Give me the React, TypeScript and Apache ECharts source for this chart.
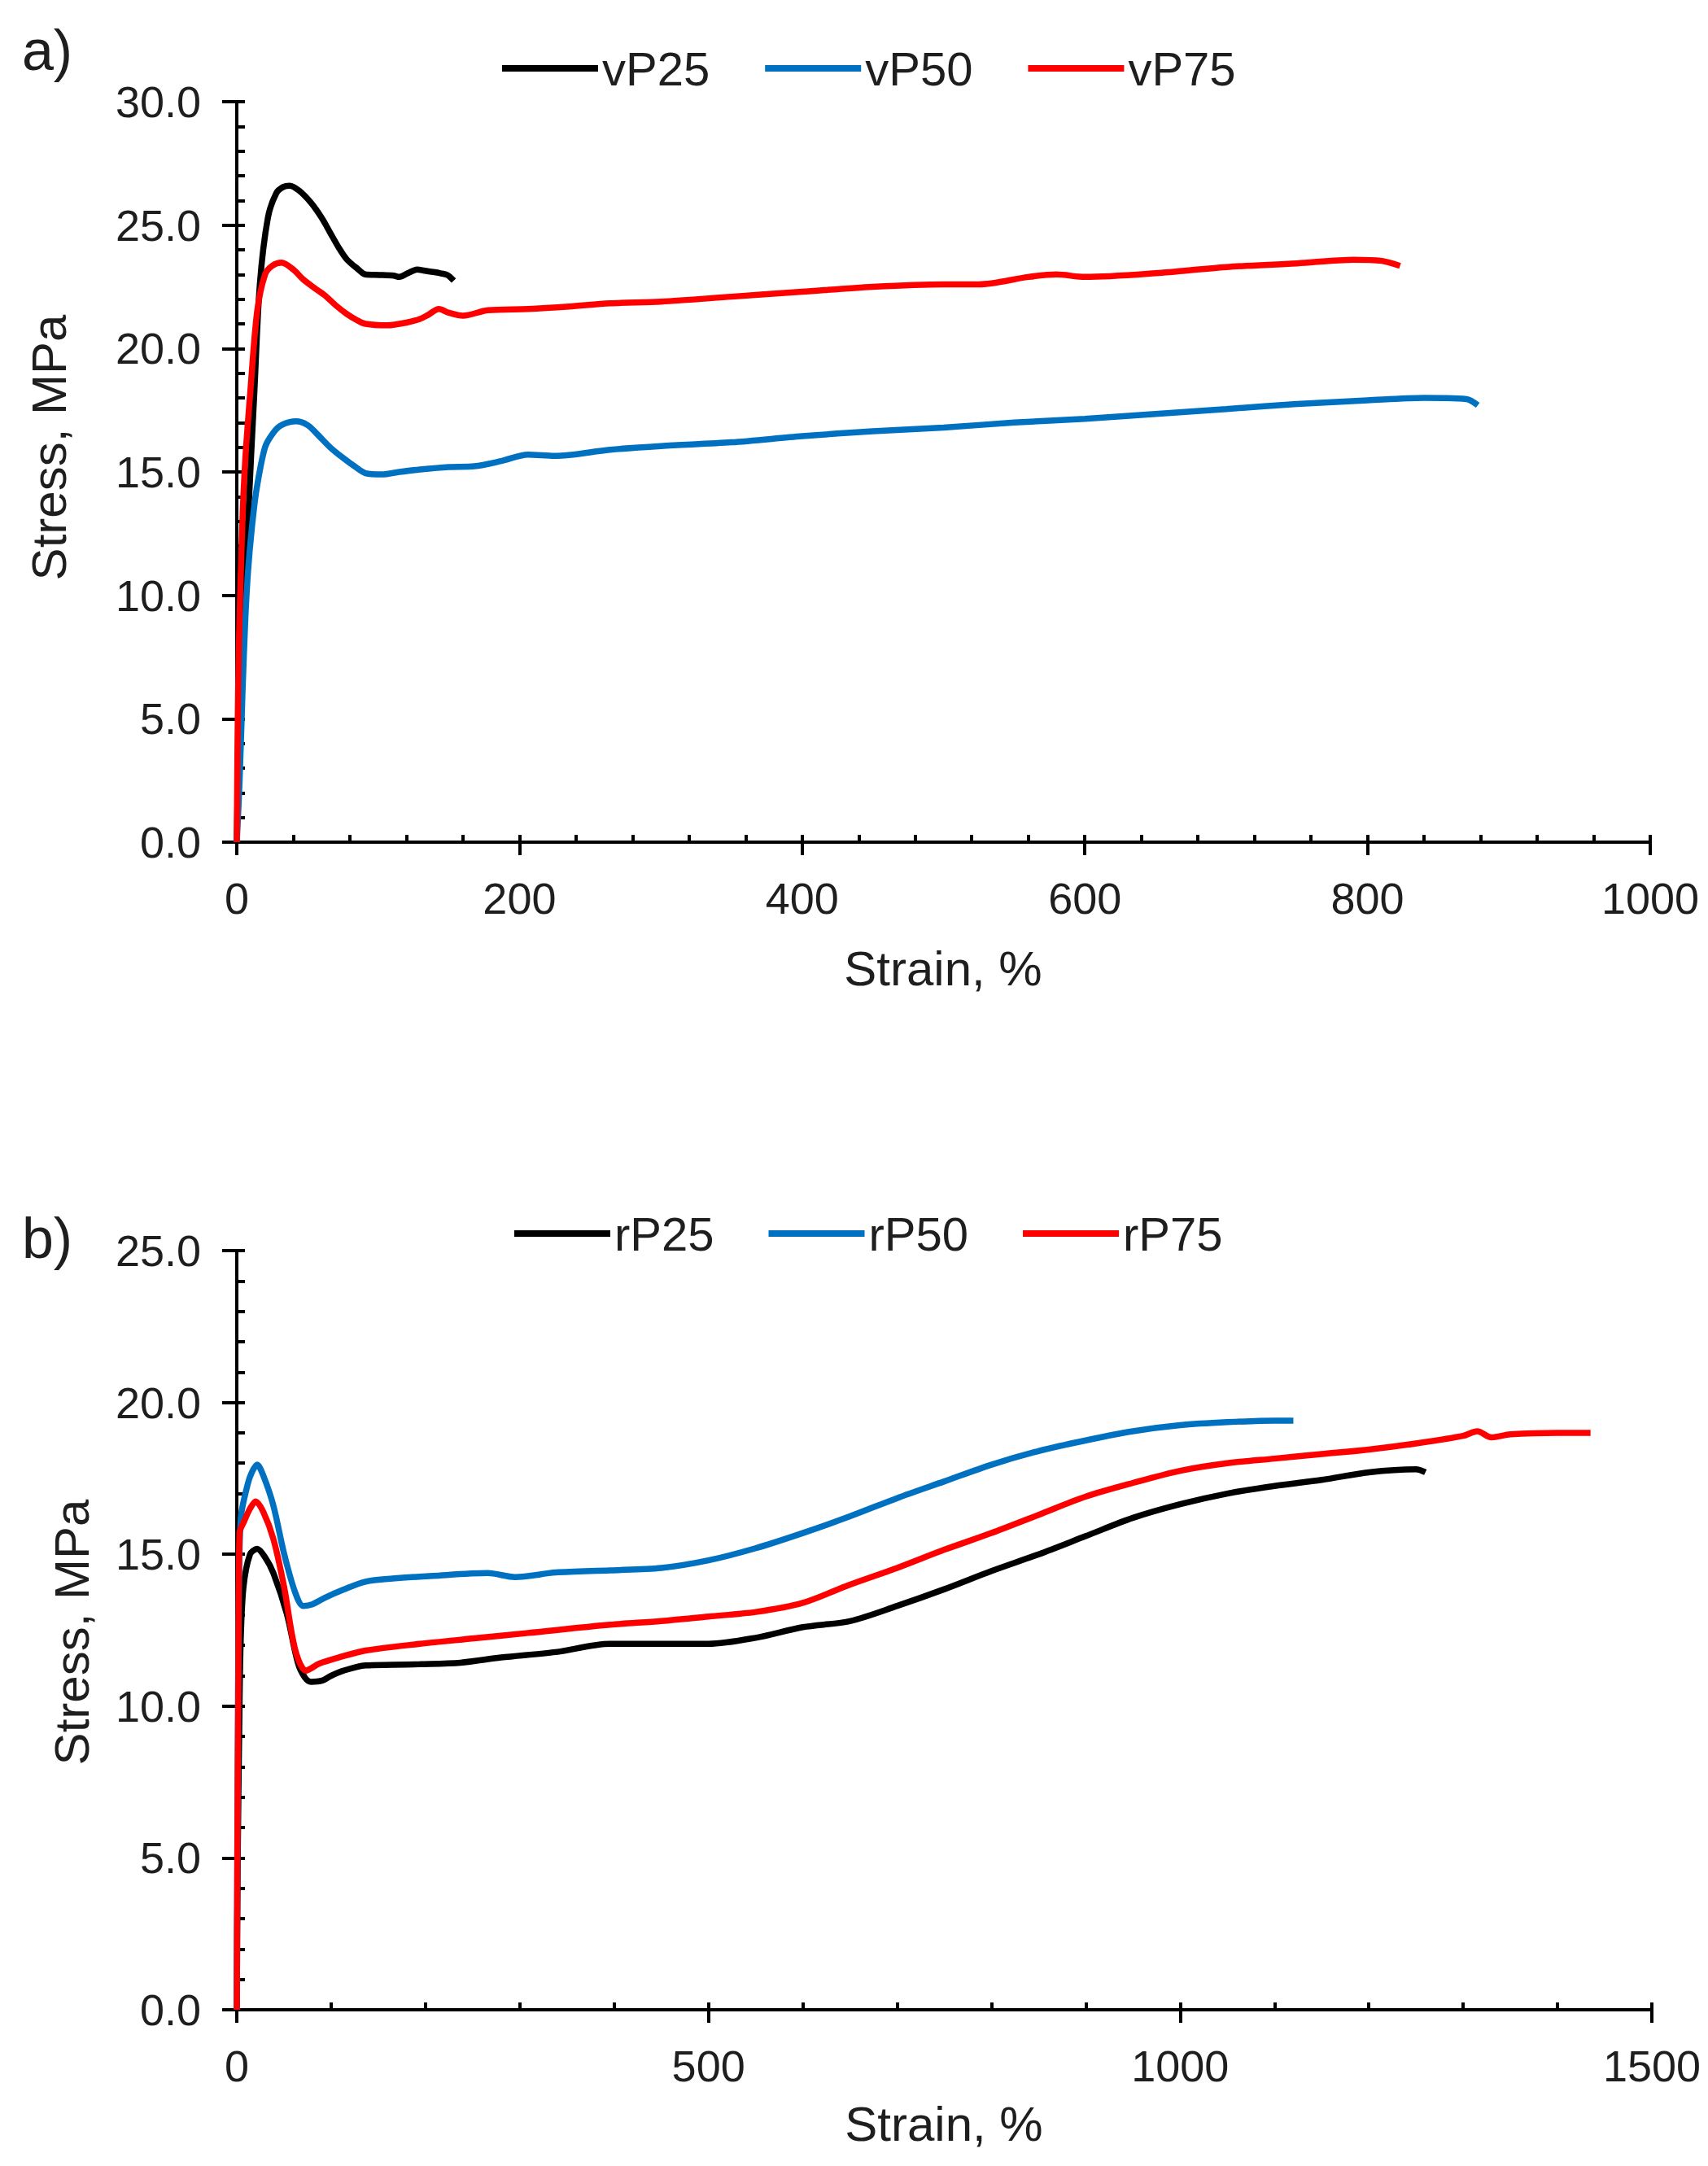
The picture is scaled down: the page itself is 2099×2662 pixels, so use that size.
import React, { useEffect, useRef } from 'react';
import * as echarts from 'echarts';

// panel a) virgin blends
const vP25Strain = [0, 1, 3, 6, 7.7, 10, 12.4, 16.3, 22, 28, 33, 37.4, 44, 52.6, 60, 66, 72, 78, 85, 91, 101, 111, 115, 121, 127.6, 133, 139, 144, 149, 153.5];
const vP25Stress = [0, 3, 6.5, 10.5, 12.7, 15.5, 18.2, 22.6, 25.3, 26.3, 26.55, 26.6, 26.4, 25.9, 25.3, 24.7, 24.1, 23.6, 23.25, 23.0, 22.98, 22.95, 22.9, 23.05, 23.2, 23.15, 23.1, 23.05, 22.98, 22.75];

const vP50Strain = [0, 2, 4, 6, 8, 10.6, 14, 20, 26, 31.7, 42, 50, 56.6, 66, 75.6, 84, 91, 102.7, 115, 129.6, 150, 168, 187, 206, 225, 264, 300, 350, 400, 450, 500, 550, 600, 650, 700, 750, 800, 840, 870, 878];
const vP50Stress = [0, 2.5, 6, 9, 11, 12.7, 14.3, 16.0, 16.6, 16.9, 17.05, 16.9, 16.55, 16.0, 15.55, 15.2, 14.95, 14.9, 15.0, 15.1, 15.2, 15.23, 15.44, 15.7, 15.65, 15.9, 16.05, 16.2, 16.45, 16.65, 16.8, 17.0, 17.15, 17.35, 17.55, 17.75, 17.9, 18.0, 17.95, 17.7];

const vP75Strain = [0, 0.5, 1.5, 3.8, 6, 9.5, 14.4, 20, 25, 31.7, 40, 47, 55, 62.4, 70, 77.8, 85, 91, 106.6, 120, 129.6, 135, 143, 150, 160, 177.6, 206, 235, 264, 300, 350, 400, 450, 500, 525, 560, 580, 600, 650, 700, 750, 790, 810, 823];
const vP75Stress = [0, 4, 8, 12.7, 15.5, 18.2, 21.5, 23.0, 23.35, 23.48, 23.2, 22.8, 22.45, 22.15, 21.75, 21.4, 21.15, 21.0, 20.94, 21.05, 21.2, 21.35, 21.6, 21.45, 21.33, 21.55, 21.6, 21.7, 21.83, 21.9, 22.1, 22.3, 22.5, 22.6, 22.6, 22.9, 23.0, 22.9, 23.05, 23.3, 23.45, 23.6, 23.55, 23.35];

// panel b) recycled blends
const rP25Strain = [0, 1, 2.5, 4, 7, 14, 21.6, 30, 38.8, 53, 64.7, 72, 78.8, 90.6, 100, 113.3, 136.5, 165, 194, 237, 280, 338, 395.6, 450, 500, 550, 600, 650, 700, 750, 800, 850, 900, 950, 1000, 1050, 1100, 1150, 1200, 1250, 1260];
const rP25Stress = [0, 5, 9, 12, 13.9, 15.0, 15.18, 14.9, 14.38, 13.04, 11.43, 10.95, 10.8, 10.84, 11.0, 11.17, 11.34, 11.36, 11.38, 11.43, 11.6, 11.78, 12.05, 12.05, 12.05, 12.25, 12.6, 12.8, 13.3, 13.85, 14.45, 15.0, 15.6, 16.2, 16.65, 17.0, 17.25, 17.45, 17.7, 17.8, 17.7];

const rP50Strain = [0, 1, 2, 4.3, 11.5, 16, 21.6, 28, 38.8, 50.3, 61.8, 70.4, 80, 93.4, 113.3, 136.5, 165, 208, 266, 295, 338, 395.6, 450, 500, 550, 600, 650, 700, 750, 800, 850, 900, 950, 1000, 1050, 1100, 1120];
const rP50Stress = [0, 8, 13, 16.2, 17.3, 17.7, 17.95, 17.6, 16.6, 15.0, 13.75, 13.3, 13.35, 13.57, 13.84, 14.1, 14.2, 14.29, 14.38, 14.25, 14.4, 14.47, 14.55, 14.8, 15.2, 15.7, 16.25, 16.85, 17.4, 17.95, 18.4, 18.75, 19.05, 19.25, 19.35, 19.4, 19.4];

const rP75Strain = [0, 0.5, 1.5, 2.9, 8, 14, 20, 28, 38.8, 50.3, 61.8, 73.3, 87.5, 107.8, 136.5, 194, 251.5, 309, 395.6, 450, 500, 550, 600, 650, 700, 750, 800, 850, 900, 950, 1000, 1050, 1100, 1150, 1200, 1250, 1300, 1315, 1330, 1350, 1400, 1435];
const rP75Stress = [0, 5, 10, 15.7, 16.1, 16.5, 16.74, 16.4, 15.5, 13.9, 11.87, 11.17, 11.4, 11.6, 11.83, 12.05, 12.23, 12.41, 12.68, 12.8, 12.95, 13.1, 13.4, 14.0, 14.55, 15.15, 15.7, 16.3, 16.9, 17.35, 17.75, 18.0, 18.15, 18.3, 18.45, 18.65, 18.9, 19.05, 18.85, 18.95, 19.0, 19.0];

const FONT = '"Liberation Sans", Arial, sans-serif';
const TXT = '#1e1e1e';

const pairs = (xs: number[], ys: number[]) => xs.map((x, i) => [x, ys[i]]);

function line(name: string, color: string, xs: number[], ys: number[], idx: number) {
  return {
    name,
    type: 'line',
    xAxisIndex: idx * 2,
    yAxisIndex: idx * 2,
    data: pairs(xs, ys),
    showSymbol: false,
    smooth: 0.3,
    lineStyle: { color, width: 7.5 },
    itemStyle: { color },
  };
}

function xAxes(grid: number, max: number, interval: number) {
  return [
    {
      type: 'value', gridIndex: grid, position: 'bottom', min: 0, max, interval,
      axisLine: { lineStyle: { color: '#000', width: 4 } },
      axisTick: { length: 16, lineStyle: { color: '#000', width: 4 } },
      axisLabel: { fontSize: 54, color: TXT, margin: 42, fontFamily: FONT, formatter: (v: number) => String(v) },
      splitLine: { show: false },
    },
    {
      type: 'value', gridIndex: grid, position: 'bottom', min: 0, max, interval,
      axisLine: { show: false },
      axisTick: { inside: true, length: 9, lineStyle: { color: '#000', width: 4 } },
      minorTick: { show: true, splitNumber: 5, length: 9, lineStyle: { color: '#000', width: 4 } },
      axisLabel: { show: false },
      splitLine: { show: false },
    },
  ];
}

function yAxes(grid: number, max: number) {
  return [
    {
      type: 'value', gridIndex: grid, position: 'left', min: 0, max, interval: 5,
      axisLine: { show: true, lineStyle: { color: '#000', width: 4 } },
      axisTick: { show: true, length: 18, lineStyle: { color: '#000', width: 4 } },
      axisLabel: { fontSize: 54, color: TXT, margin: 44, fontFamily: FONT, formatter: (v: number) => v.toFixed(1) },
      splitLine: { show: false },
    },
    {
      type: 'value', gridIndex: grid, position: 'left', min: 0, max, interval: 5,
      axisLine: { show: false },
      axisTick: { show: true, inside: true, length: 10, lineStyle: { color: '#000', width: 4 } },
      minorTick: { show: true, splitNumber: 5, length: 10, lineStyle: { color: '#000', width: 4 } },
      axisLabel: { show: false },
      splitLine: { show: false },
    },
  ];
}

function legend(names: string[], left: number, top: number, gap: number) {
  return {
    data: names,
    left,
    top,
    icon: 'rect',
    itemWidth: 118,
    itemHeight: 8,
    itemGap: gap,
    textStyle: { fontSize: 58, color: TXT, fontFamily: FONT },
  };
}

function label(text: string, x: number, y: number, size: number, rotate = 0) {
  return {
    type: 'text',
    x,
    y,
    rotation: rotate,
    style: { text, font: `${size}px ${FONT}`, fill: TXT, align: 'center', verticalAlign: 'middle' },
  };
}

export default function App() {
  const chartRef = useRef<HTMLDivElement>(null);

  useEffect(() => {
    document.body.style.margin = '0';
    if (!chartRef.current) return undefined;
    const chart = echarts.init(chartRef.current, undefined, { renderer: 'svg' });
    chart.setOption({
      animation: false,
      backgroundColor: '#fff',
      textStyle: { fontFamily: FONT },
      grid: [
        { left: 291, right: 71, top: 125, height: 910 },
        { left: 291, right: 69, top: 1537, height: 933 },
      ],
      xAxis: [...xAxes(0, 1000, 200), ...xAxes(1, 1500, 500)],
      yAxis: [...yAxes(0, 30), ...yAxes(1, 25)],
      legend: [
        legend(['vP25', 'vP50', 'vP75'], 612, 50, 68),
        legend(['rP25', 'rP50', 'rP75'], 627, 1482, 67),
      ],
      graphic: [
        label('a)', 58, 62, 70),
        label('b)', 58, 1522, 70),
        label('Stress, MPa', 60, 550, 60, Math.PI / 2),
        label('Strain, %', 1159, 1190, 60),
        label('Stress, MPa', 88, 2006, 60, Math.PI / 2),
        label('Strain, %', 1160, 2610, 60),
      ],
      series: [
        line('vP25', '#000000', vP25Strain, vP25Stress, 0),
        line('vP50', '#0070C0', vP50Strain, vP50Stress, 0),
        line('vP75', '#FF0000', vP75Strain, vP75Stress, 0),
        line('rP25', '#000000', rP25Strain, rP25Stress, 1),
        line('rP50', '#0070C0', rP50Strain, rP50Stress, 1),
        line('rP75', '#FF0000', rP75Strain, rP75Stress, 1),
      ],
    });
    return () => {
      chart.dispose();
    };
  }, []);

  return <div ref={chartRef} style={{ width: '2099px', height: '2662px' }} />;
}
